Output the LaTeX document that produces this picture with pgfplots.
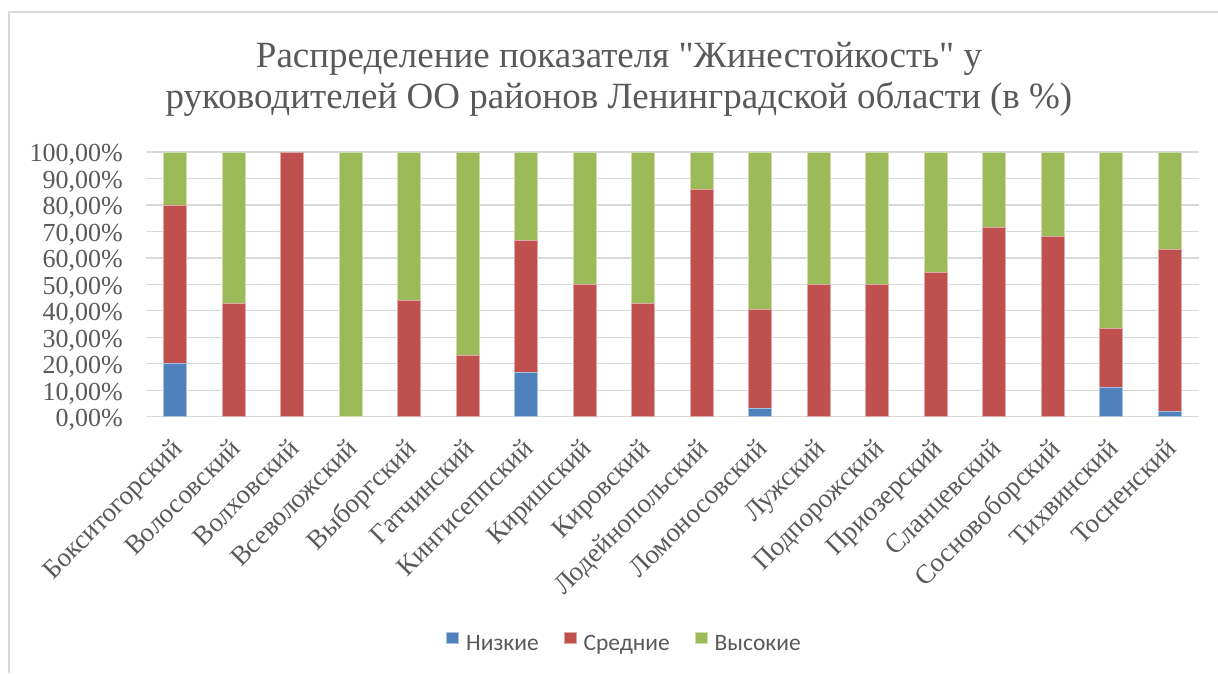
\documentclass[border=0pt]{standalone}
\usepackage{pgfplots}
\pgfplotsset{compat=1.18}
\usepackage{fontspec}
\setmainfont{Liberation Serif}[Ligatures=TeXOff]
\newfontfamily\serif{Liberation Serif}[Ligatures=TeXOff]
\newfontfamily\legfont{Carlito}
\definecolor{cBlue}{HTML}{4F81BD}
\definecolor{cRed}{HTML}{C0504D}
\definecolor{cGreen}{HTML}{9BBB59}
\definecolor{cText}{HTML}{595959}
\definecolor{cGrid}{HTML}{D9D9D9}
\begin{document}
\begin{tikzpicture}[x=1pt,y=1pt]
\draw[cGrid, line width=2pt] (9,0) -- (9,661) -- (1230,661);
\node[anchor=base, text=cText, font=\serif\fontsize{37}{44}\selectfont, inner sep=0pt] at (619,605.3) {Распределение показателя "Жинестойкость" у};
\node[anchor=base, text=cText, font=\serif\fontsize{37}{44}\selectfont, inner sep=0pt] at (619,564) {руководителей ОО районов Ленинградской области (в \%)};
\begin{axis}[
  at={(146pt,256.3pt)}, anchor=south west,
  scale only axis, width=1053pt, height=264.7pt,
  ybar stacked, bar width=23pt,
  xmin=-0.5, xmax=17.5, ymin=0, ymax=100,
  xtick={0,...,17},
  xticklabels={Бокситогорский,Волосовский,Волховский,Всеволожский,Выборгский,Гатчинский,Кингисеппский,Киришский,Кировский,Лодейнопольский,Ломоносовский,Лужский,Подпорожский,Приозерский,Сланцевский,Сосновоборский,Тихвинский,Тосненский},
  ytick={0,10,...,100},
  yticklabels={{0,00\%},{10,00\%},{20,00\%},{30,00\%},{40,00\%},{50,00\%},{60,00\%},{70,00\%},{80,00\%},{90,00\%},{100,00\%}},
  axis line style={draw=none},
  major tick style={draw=none},
  ymajorgrids, grid style={cGrid, line width=1.3pt},
  yticklabel style={font=\serif\fontsize{26}{30}\selectfont, text=cText, anchor=base east, inner sep=0pt, xshift=-23pt, yshift=-9.9pt},
  xticklabel style={font=\serif\fontsize{27}{30}\selectfont, text=cText, xshift=-5pt, yshift=-20pt, rotate=45, anchor=north east, inner sep=0pt},
  legend style={at={(0.4535,-0.851)}, anchor=center, draw=none, fill=none, legend columns=-1,
    font=\legfont\fontsize{23.5}{28}\selectfont, text=cText,
    nodes={inner sep=0pt},
    /tikz/every odd column/.append style={column sep=7pt},
    /tikz/every even column/.append style={column sep=25pt}},
  legend image code/.code={\fill[#1] (0pt,0pt) rectangle (12pt,11pt);},
]
\addplot+[fill=cBlue, draw=cBlue!50!white, line width=0.8pt] coordinates {
(0,20) (1,0) (2,0) (3,0) (4,0) (5,0) (6,16.67) (7,0) (8,0) (9,0) (10,3.03) (11,0) (12,0) (13,0) (14,0) (15,0) (16,11.11) (17,2.04)};
\addplot+[fill=cRed, draw=cRed!50!white, line width=0.8pt] coordinates {
(0,60) (1,42.86) (2,100) (3,0) (4,43.75) (5,23.08) (6,50) (7,50) (8,42.86) (9,85.71) (10,37.37) (11,50) (12,50) (13,54.55) (14,71.43) (15,68.18) (16,22.22) (17,61.22)};
\addplot+[fill=cGreen, draw=cGreen!50!white, line width=0.8pt] coordinates {
(0,20) (1,57.14) (2,0) (3,100) (4,56.25) (5,76.92) (6,33.33) (7,50) (8,57.14) (9,14.29) (10,59.60) (11,50) (12,50) (13,45.45) (14,28.57) (15,31.82) (16,66.67) (17,36.74)};
\legend{Низкие,Средние,Высокие}
\end{axis}
\pgfresetboundingbox
\path (0,0) rectangle (1218,673);
\end{tikzpicture}
\end{document}
